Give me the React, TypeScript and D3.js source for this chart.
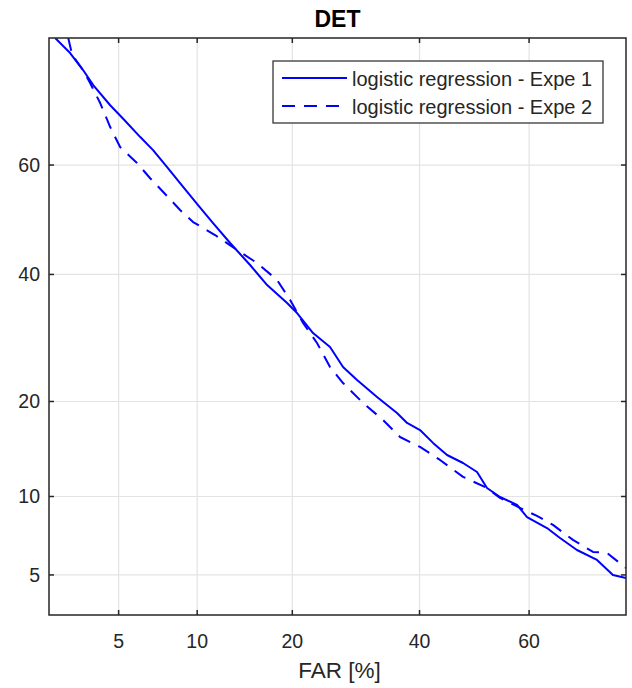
import React from "react";
import * as d3 from "d3";

// DET curves: false alarm rate vs. miss rate, both in percent
const farExpe1 = [2.63, 3.08, 3.52, 3.90, 4.61, 5.22, 6.12, 6.87, 7.77, 8.68, 10.07, 11.35, 12.94, 14.99, 16.90, 19.33, 20.62, 22.79, 25.23, 27.19, 29.38, 32.64, 36.04, 37.79, 40.09, 42.43, 44.98, 47.92, 50.50, 52.34, 54.73, 57.83, 59.63, 63.16, 65.41, 68.25, 71.48, 73.93, 75.85];
const frrExpe1 = [80.0, 77.99, 75.59, 73.36, 70.2, 68.0, 64.91, 62.65, 59.64, 56.75, 52.71, 49.39, 45.71, 41.70, 38.12, 34.99, 33.29, 29.99, 27.78, 24.76, 22.90, 20.59, 18.54, 17.33, 16.51, 15.07, 13.80, 13.00, 12.14, 10.71, 9.96, 9.33, 8.43, 7.67, 7.03, 6.31, 5.76, 5.00, 4.86];

const farExpe2 = [3.02, 3.15, 3.52, 3.78, 4.18, 4.61, 5.07, 5.94, 6.68, 7.77, 8.68, 9.67, 11.53, 13.63, 15.76, 18.09, 19.72, 21.42, 23.35, 25.23, 27.19, 30.35, 33.65, 36.56, 40.09, 43.70, 47.92, 52.34, 54.73, 58.37, 61.40, 64.20, 67.59, 70.85, 73.02, 75.85];
const frrExpe2 = [80.0, 77.70, 75.59, 73.66, 70.55, 66.61, 63.18, 60.36, 57.66, 54.37, 51.79, 49.58, 47.18, 44.42, 42.06, 39.01, 35.51, 31.63, 28.41, 24.76, 22.48, 19.81, 17.69, 15.72, 14.64, 13.30, 11.69, 10.71, 9.88, 9.10, 8.51, 7.88, 6.91, 6.20, 6.14, 5.34];

const seriesNames = ["logistic regression - Expe 1", "logistic regression - Expe 2"];
const xTicks = [5, 10, 20, 40, 60];
const yTicks = [5, 10, 20, 40, 60];
const xLimits = [2.46, 75.85];
const yLimits = [3.36, 80.0];

// Inverse of the standard normal CDF (Acklam's rational approximation)
function probit(p: number): number {
  const a = [-39.69683028665376, 220.9460984245205, -275.9285104469687, 138.357751867269, -30.66479806614716, 2.506628277459239];
  const b = [-54.47609879822406, 161.5858368580409, -155.6989798598866, 66.80131188771972, -13.28068155288572];
  const c = [-0.007784894002430293, -0.3223964580411365, -2.400758277161838, -2.549732539343734, 4.374664141464968, 2.938163982698783];
  const d = [0.007784695709041462, 0.3224671290700398, 2.445134137142996, 3.754408661907416];
  const plow = 0.02425;
  if (p < plow) {
    const q = Math.sqrt(-2 * Math.log(p));
    return (((((c[0] * q + c[1]) * q + c[2]) * q + c[3]) * q + c[4]) * q + c[5]) /
      ((((d[0] * q + d[1]) * q + d[2]) * q + d[3]) * q + 1);
  }
  if (p <= 1 - plow) {
    const q = p - 0.5;
    const r = q * q;
    return (((((a[0] * r + a[1]) * r + a[2]) * r + a[3]) * r + a[4]) * r + a[5]) * q /
      (((((b[0] * r + b[1]) * r + b[2]) * r + b[3]) * r + b[4]) * r + 1);
  }
  const q = Math.sqrt(-2 * Math.log(1 - p));
  return -(((((c[0] * q + c[1]) * q + c[2]) * q + c[3]) * q + c[4]) * q + c[5]) /
    ((((d[0] * q + d[1]) * q + d[2]) * q + d[3]) * q + 1);
}

const W = 632;
const H = 688;
const left = 49;
const right = 626;
const top = 38;
const bottom = 615;

const FONT = "'Liberation Sans', Arial, Helvetica, sans-serif";
const AXIS = "#262626";
const GRID = "#e3e3e3";
const BLUE = "#0000ff";

export default function App() {
  const x = d3.scaleLinear().domain(xLimits.map((v) => probit(v / 100))).range([left, right]);
  const y = d3.scaleLinear().domain(yLimits.map((v) => probit(v / 100))).range([bottom, top]);

  const line = d3
    .line<[number, number]>()
    .x((d) => x(probit(d[0] / 100)))
    .y((d) => y(probit(d[1] / 100)));

  const pts1 = farExpe1.map((f, i) => [f, frrExpe1[i]] as [number, number]);
  const pts2 = farExpe2.map((f, i) => [f, frrExpe2[i]] as [number, number]);

  const tickLen = 5;

  return (
    <svg
      width={W}
      height={H}
      style={{ position: "absolute", left: 0, top: 0, display: "block", background: "#fff" }}
      fontFamily={FONT}
    >
      <defs>
        <clipPath id="plotArea">
          <rect x={left} y={top} width={right - left} height={bottom - top} />
        </clipPath>
      </defs>
      <rect x={0} y={0} width={W} height={H} fill="#fff" />

      {/* grid */}
      {xTicks.map((t) => (
        <line key={"gx" + t} x1={x(probit(t / 100))} x2={x(probit(t / 100))} y1={top} y2={bottom} stroke={GRID} strokeWidth={1.2} />
      ))}
      {yTicks.map((t) => (
        <line key={"gy" + t} x1={left} x2={right} y1={y(probit(t / 100))} y2={y(probit(t / 100))} stroke={GRID} strokeWidth={1.2} />
      ))}

      {/* curves */}
      <g clipPath="url(#plotArea)">
        <path d={line(pts1) ?? ""} fill="none" stroke={BLUE} strokeWidth={2} strokeLinejoin="round" />
        <path d={line(pts2) ?? ""} fill="none" stroke={BLUE} strokeWidth={2} strokeDasharray="13,9" strokeLinejoin="round" />
      </g>

      {/* axes box */}
      <rect x={left} y={top} width={right - left} height={bottom - top} fill="none" stroke={AXIS} strokeWidth={1.5} />

      {/* ticks */}
      {xTicks.map((t) => {
        const px = x(probit(t / 100));
        return (
          <g key={"tx" + t}>
            <line x1={px} x2={px} y1={bottom} y2={bottom - tickLen} stroke={AXIS} strokeWidth={1.5} />
            <line x1={px} x2={px} y1={top} y2={top + tickLen} stroke={AXIS} strokeWidth={1.5} />
            <text x={px} y={641} textAnchor="middle" dominantBaseline="central" fontSize={19.5} fill={AXIS}>
              {t}
            </text>
          </g>
        );
      })}
      {yTicks.map((t) => {
        const py = y(probit(t / 100));
        return (
          <g key={"ty" + t}>
            <line x1={left} x2={left + tickLen} y1={py} y2={py} stroke={AXIS} strokeWidth={1.5} />
            <line x1={right} x2={right - tickLen} y1={py} y2={py} stroke={AXIS} strokeWidth={1.5} />
            <text x={40} y={py} textAnchor="end" dominantBaseline="central" fontSize={19.5} fill={AXIS}>
              {t}
            </text>
          </g>
        );
      })}

      {/* title and axis label */}
      <text x={(left + right) / 2} y={19} textAnchor="middle" dominantBaseline="central" fontSize={23} fontWeight="bold" fill="#000">
        DET
      </text>
      <text x={(left + right) / 2 + 2} y={670} textAnchor="middle" dominantBaseline="central" fontSize={22.5} fill={AXIS}>
        FAR [%]
      </text>

      {/* legend */}
      <g>
        <rect x={273} y={61} width={330} height={62} fill="#fff" stroke={AXIS} strokeWidth={1.2} />
        <line x1={282} x2={347} y1={78} y2={78} stroke={BLUE} strokeWidth={2} />
        <line x1={282} x2={347} y1={106} y2={106} stroke={BLUE} strokeWidth={2} strokeDasharray="13,9" />
        <text x={352} y={79} dominantBaseline="central" fontSize={20} fill={AXIS}>
          {seriesNames[0]}
        </text>
        <text x={352} y={107} dominantBaseline="central" fontSize={20} fill={AXIS}>
          {seriesNames[1]}
        </text>
      </g>
    </svg>
  );
}
